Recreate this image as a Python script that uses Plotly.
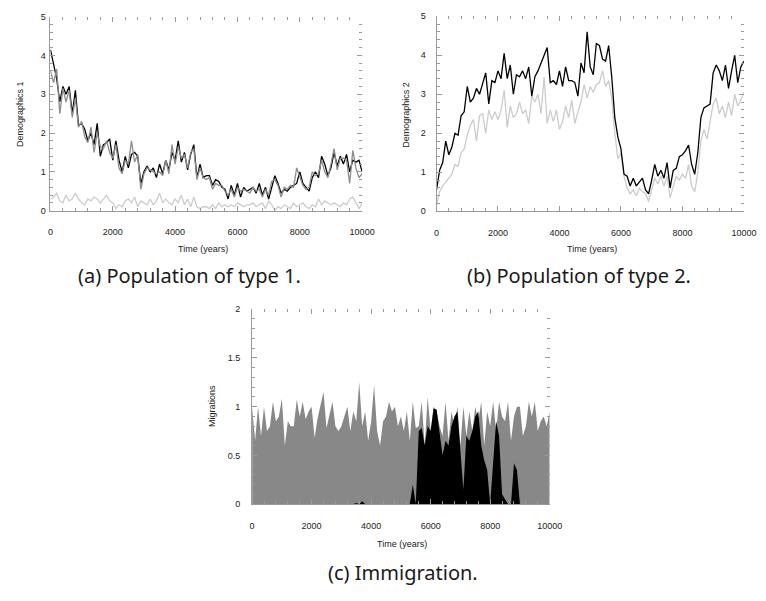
import plotly.graph_objects as go

years = list(range(0, 10001, 100))

# Panel (a): Demographics 1
demo1_black = [4.15,3.8,3.4,2.8,3.2,3.0,3.2,2.5,3.1,2.2,
               2.25,2.1,1.8,2.0,1.7,2.25,1.4,1.7,1.75,1.85,
               1.3,1.8,1.3,1.0,1.4,1.1,1.45,1.5,1.4,0.7,
               1.0,1.15,1.0,1.1,0.85,1.2,0.95,1.3,1.05,1.5,
               1.3,1.8,1.25,1.5,1.05,1.45,1.7,0.85,1.2,0.85,
               0.9,0.9,0.65,0.8,0.75,0.6,0.55,0.3,0.65,0.4,
               0.7,0.35,0.6,0.5,0.55,0.6,0.45,0.7,0.4,0.6,
               0.3,0.6,0.9,0.7,0.45,0.55,0.5,0.6,0.65,0.7,
               1.0,0.7,0.6,0.5,0.85,1.0,0.85,1.4,1.2,0.9,
               1.1,1.5,1.15,1.4,1.2,1.45,1.0,1.3,1.25,1.3,
               1.0]
demo1_gray = [3.6,3.3,3.65,2.5,3.15,2.8,3.1,2.4,2.9,2.15,
              2.3,1.9,1.75,2.15,1.5,2.0,1.65,1.6,1.8,1.5,
              1.35,1.7,1.1,0.95,1.3,1.2,1.8,1.25,1.45,0.55,
              0.95,1.1,1.05,1.0,0.95,1.0,0.9,1.3,0.95,1.7,
              1.2,1.65,1.35,1.45,1.1,1.5,1.6,0.8,1.1,0.85,
              0.8,0.85,0.55,0.7,0.65,0.65,0.5,0.4,0.55,0.35,
              0.6,0.5,0.55,0.5,0.45,0.6,0.5,0.55,0.35,0.55,
              0.4,0.75,0.8,0.65,0.35,0.6,0.55,0.65,0.6,1.1,
              0.9,0.65,0.55,0.6,1.0,0.9,0.95,1.3,1.0,0.85,
              1.2,1.6,1.05,1.35,1.35,1.3,0.7,1.55,1.1,0.85,
              0.95]
demo1_light = [0.3,0.35,0.45,0.25,0.2,0.4,0.25,0.3,0.45,0.3,
               0.2,0.15,0.3,0.25,0.35,0.3,0.2,0.3,0.4,0.25,
               0.2,0.05,0.15,0.1,0.25,0.3,0.2,0.35,0.1,0.25,
               0.2,0.15,0.3,0.15,0.25,0.45,0.2,0.3,0.2,0.15,
               0.3,0.2,0.4,0.15,0.3,0.1,0.35,0.1,0.05,0.1,
               0.1,0.05,0.15,0.05,0.2,0.1,0.15,0.1,0.15,0.1,
               0.2,0.15,0.1,0.15,0.15,0.2,0.1,0.15,0.2,0.05,
               0.25,0.15,0.0,0.1,0.05,0.15,0.1,0.05,0.2,0.1,
               0.15,0.2,0.1,0.05,0.15,0.1,0.3,0.15,0.25,0.2,
               0.15,0.2,0.15,0.1,0.2,0.15,0.3,0.35,0.2,0.05,
               0.2]

# Panel (b): Demographics 2
demo2_black = [0.55,1.05,1.25,1.8,1.45,1.65,2.0,1.95,2.45,2.55,
               3.2,2.8,2.9,3.15,3.0,3.3,3.55,2.75,3.35,3.3,
               3.6,3.4,4.05,3.4,3.75,3.0,3.5,3.45,3.6,3.4,
               3.7,2.95,3.45,3.6,3.8,4.05,4.2,3.3,3.35,3.25,
               3.6,3.2,3.7,3.35,3.35,3.3,2.95,3.8,3.55,4.6,
               3.7,3.5,4.3,4.25,3.9,3.85,4.25,3.45,2.4,1.9,
               1.6,0.95,0.9,0.65,0.85,0.65,0.75,0.85,0.55,0.45,
               0.8,1.2,0.9,1.05,0.85,1.25,0.6,1.05,1.1,1.4,
               1.45,1.55,1.7,1.2,0.95,1.5,2.4,2.65,2.7,2.75,
               3.55,3.75,3.6,3.35,3.75,3.15,3.6,4.0,3.3,3.7,
               3.85]
demo2_light = [0.15,0.5,0.65,0.75,0.85,0.95,1.2,1.15,1.5,1.6,
               1.95,2.2,2.35,1.8,2.45,2.5,2.0,2.6,2.35,2.55,
               2.35,2.6,3.1,2.15,2.7,2.4,2.5,2.8,2.5,2.6,
               2.25,2.95,2.8,3.0,2.5,3.45,2.25,2.6,2.3,2.6,
               2.1,2.3,2.7,2.4,2.85,2.25,2.55,2.8,3.25,2.9,
               3.2,3.05,3.25,3.3,3.6,3.2,3.35,2.9,2.0,1.35,
               1.5,0.9,0.6,0.45,0.55,0.4,0.6,0.5,0.45,0.25,
               0.55,0.85,0.7,0.9,0.65,0.9,0.35,0.6,0.9,0.8,
               0.95,0.85,1.2,0.65,0.5,1.0,1.8,2.1,1.85,2.3,
               2.75,2.9,2.5,2.7,2.4,2.8,2.45,3.0,2.7,2.85,
               3.05]

# Panel (c): Migrations
migr_gray = [1.0,0.65,1.0,0.7,1.0,0.75,0.8,1.05,0.85,0.9,
             1.08,0.6,0.85,0.8,0.8,1.07,0.9,1.05,0.87,0.95,
             1.0,0.68,0.88,1.0,1.15,0.78,0.92,1.05,0.8,0.75,
             0.8,0.9,1.0,0.75,0.95,0.85,1.25,0.8,0.95,0.65,
             0.85,1.22,0.75,0.6,0.85,0.9,1.05,0.95,1.0,0.8,
             0.9,0.75,0.95,0.65,1.05,0.78,0.8,1.05,0.6,1.1,
             0.75,1.0,0.95,0.8,0.7,1.05,0.65,0.95,0.8,1.0,
             0.6,1.0,0.7,0.95,0.75,1.0,0.85,1.05,0.6,0.95,
             0.8,1.05,0.75,1.05,0.9,0.85,1.05,0.65,0.9,1.0,
             1.0,0.7,0.8,1.05,0.9,1.05,0.75,0.85,0.9,0.8,
             0.95]
migr_black = [0,0,0,0,0,0,0,0,0,0,
              0,0,0,0,0,0,0,0,0,0,
              0,0,0,0,0,0,0,0,0,0,
              0,0,0,0,0,0.01,0,0.03,0,0,
              0,0,0,0,0,0,0,0,0,0,
              0,0,0,0,0.2,0,0.75,0.78,0.6,0.8,
              0.75,0.98,0.97,0.75,0.5,0.65,0.6,0.8,0.9,0.95,
              0.5,0.15,0.7,0.65,0.75,0.9,0.95,0.6,0.45,0.35,
              0.0,0.45,0.85,0.7,0.1,0.05,0,0,0.42,0.35,
              0,0,0,0,0,0,0,0,0,0,
              0]

# The page body has an 8px margin; positions below are given in page pixels.
OFF = 8
W, H = 758, 593
TICK = "#9a9a9a"
LBL = "#222222"
TFONT = dict(family="Liberation Sans, Arial, sans-serif", size=9, color=LBL)

fig = go.Figure()

def line(x, y, color, xa, ya, w=1.3):
    fig.add_trace(go.Scatter(x=x, y=y, mode="lines", xaxis=xa, yaxis=ya,
                             line=dict(color=color, width=w), hoverinfo="skip"))

line(years, demo1_light, "#cccccc", "x", "y")
line(years, demo1_black, "#000000", "x", "y")
line(years, demo1_gray, "#8c8c8c", "x", "y")
line(years, demo2_light, "#cccccc", "x2", "y2")
line(years, demo2_black, "#000000", "x2", "y2")

fig.add_trace(go.Scatter(x=years, y=migr_gray, mode="lines", fill="tozeroy",
                         fillcolor="#888888", line=dict(width=0, color="#888888"),
                         xaxis="x3", yaxis="y3", hoverinfo="skip"))
fig.add_trace(go.Scatter(x=years, y=migr_black, mode="lines", fill="tozeroy",
                         fillcolor="#000000", line=dict(width=0, color="#000000"),
                         xaxis="x3", yaxis="y3", hoverinfo="skip"))

# dummy traces to activate mirrored tick axes
for xa, ya in [("x4", "y4"), ("x5", "y5"), ("x6", "y6")]:
    fig.add_trace(go.Scatter(x=[None], y=[None], xaxis=xa, yaxis=ya, mode="lines",
                             hoverinfo="skip"))

def px_x(p):
    return (p - OFF) / W

def px_y(p):
    return 1 - (p - OFF) / H

panels = [
    dict(xd=[px_x(48.3), px_x(366.7)], yd=[px_y(209), px_y(11.7)], ymax=5, dy=1, mdy=0.2, ystand=2),
    dict(xd=[px_x(442.7), px_x(756.7)], yd=[px_y(209.7), px_y(11.3)], ymax=5, dy=1, mdy=0.2, ystand=8),
    dict(xd=[px_x(254.3), px_x(558.3)], yd=[px_y(507.5), px_y(309.3)], ymax=2, dy=0.5, mdy=0.1, ystand=9),
]

layout_axes = {}
for i, p in enumerate(panels):
    n = i + 1
    xn = "xaxis" if n == 1 else f"xaxis{n}"
    yn = "yaxis" if n == 1 else f"yaxis{n}"
    xref = "x" if n == 1 else f"x{n}"
    yref = "y" if n == 1 else f"y{n}"
    common_x = dict(range=[0, 10000], dtick=2000, tick0=0, tickformat="d", ticks="inside", ticklen=5,
                    tickcolor=TICK, tickwidth=1, showgrid=False, zeroline=False,
                    minor=dict(dtick=400, tick0=0, ticks="inside", ticklen=3, tickcolor=TICK, tickwidth=1,
                               showgrid=False),
                    fixedrange=True)
    common_y = dict(range=[0, p["ymax"]], dtick=p["dy"], tick0=0, ticks="inside", ticklen=5,
                    tickcolor=TICK, tickwidth=1, showgrid=False, zeroline=False,
                    minor=dict(dtick=p["mdy"], tick0=0, ticks="inside", ticklen=3, tickcolor=TICK,
                               tickwidth=1, showgrid=False),
                    fixedrange=True)
    layout_axes[xn] = dict(domain=p["xd"], anchor=yref, showline=True, linecolor=TICK, linewidth=1,
                           tickfont=TFONT, ticklabelstandoff=13, **common_x)
    layout_axes[yn] = dict(domain=p["yd"], anchor=xref, showline=True, linecolor=TICK, linewidth=1,
                           tickfont=TFONT, ticklabelstandoff=p["ystand"], **common_y)
    m = n + 3
    layout_axes[f"xaxis{m}"] = dict(overlaying=xref, anchor=f"y{m}", side="top", showline=False,
                                    showticklabels=False, **common_x)
    layout_axes[f"yaxis{m}"] = dict(overlaying=yref, anchor=f"x{m}", side="right", showline=False,
                                    showticklabels=False, **common_y)

AFONT = dict(family="Liberation Sans, Arial, sans-serif", size=9, color=LBL)
CFONT = dict(family="Noto Sans, Open Sans, sans-serif", size=20, color="#1a1a1a")

annotations = [
    dict(text="Demographics 1", x=px_x(17), y=px_y(111), textangle=-90, font=AFONT),
    dict(text="Time (years)", x=px_x(204), y=px_y(248), font=AFONT),
    dict(text="Demographics 2", x=px_x(412), y=px_y(111), textangle=-90, font=AFONT),
    dict(text="Time (years)", x=px_x(602), y=px_y(248), font=AFONT),
    dict(text="Migrations", x=px_x(214), y=px_y(408), textangle=-90, font=AFONT),
    dict(text="Time (years)", x=px_x(407), y=px_y(548), font=AFONT),
    dict(text="(a) Population of type 1.", x=px_x(190), y=px_y(275), font=CFONT),
    dict(text="(b) Population of type 2.", x=px_x(588), y=px_y(275), font=CFONT),
    dict(text="(c) Immigration.", x=px_x(408), y=px_y(577), font=CFONT),
]
for a in annotations:
    a.update(xref="paper", yref="paper", showarrow=False, xanchor="center", yanchor="middle")

fig.update_layout(width=W, height=H, autosize=False,
                  margin=dict(l=0, r=0, t=0, b=0, pad=0),
                  paper_bgcolor="white", plot_bgcolor="white",
                  showlegend=False, annotations=annotations, **layout_axes)

fig.write_html("out.html")
